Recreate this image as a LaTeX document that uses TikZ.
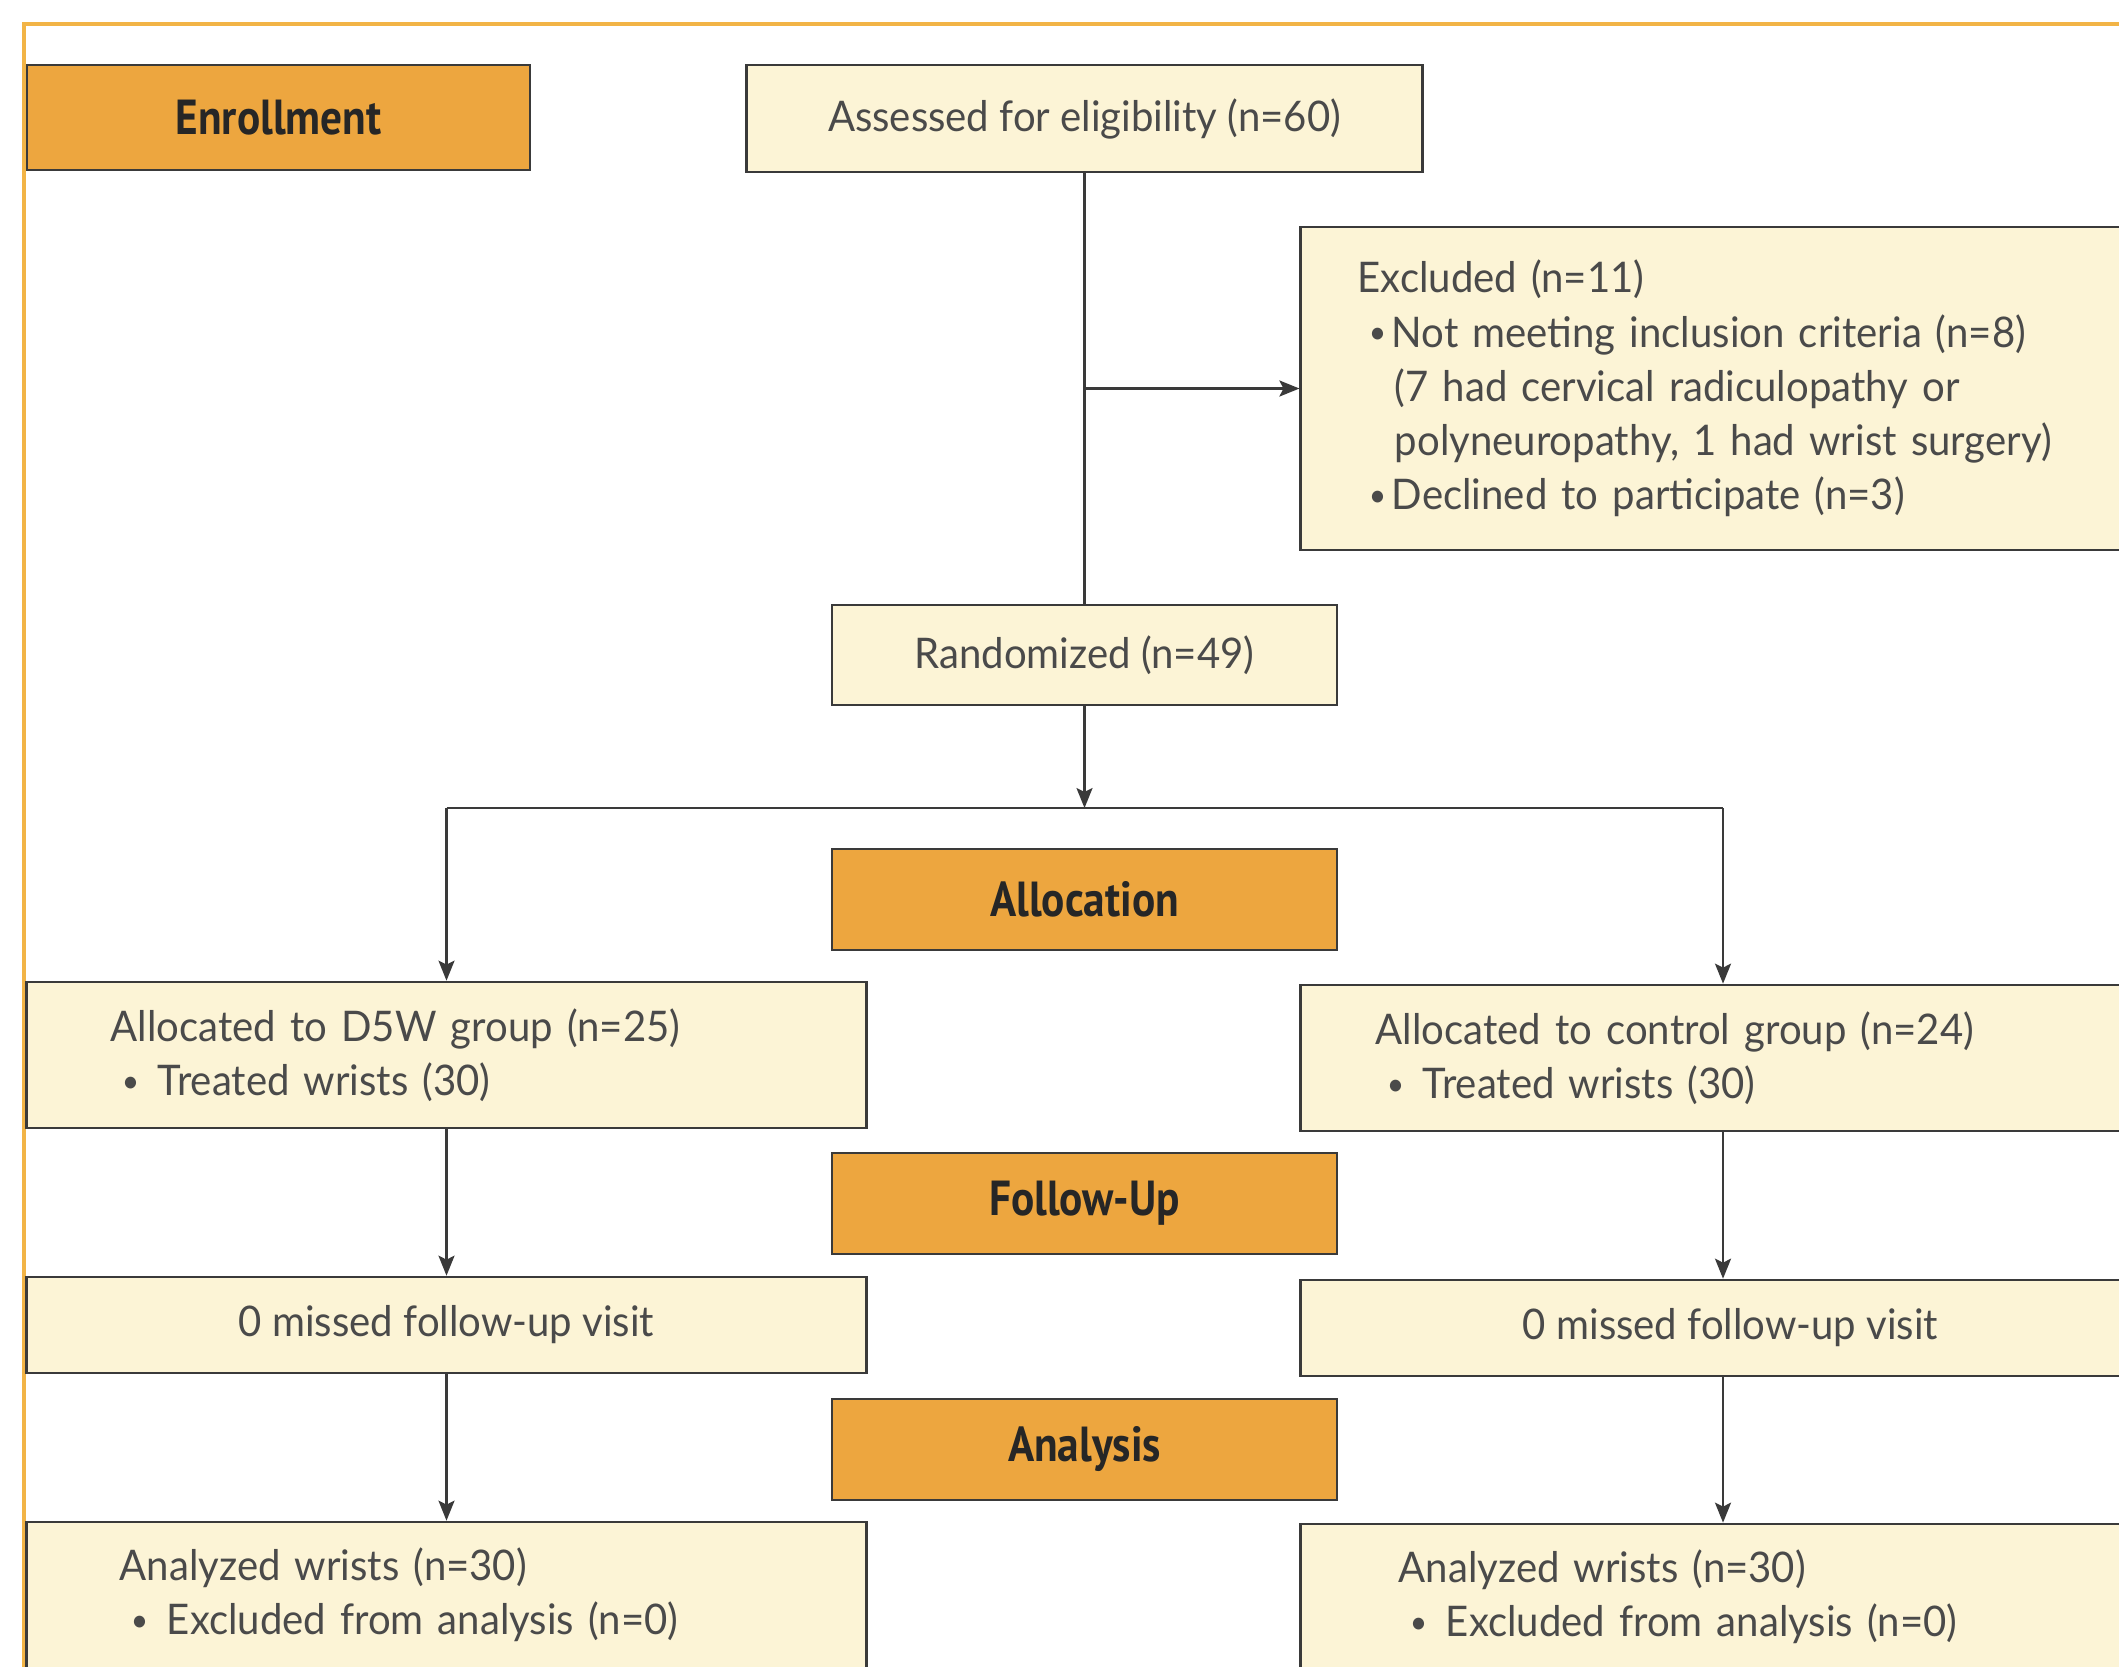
\documentclass[tikz,border=0pt]{standalone}
\usepackage{fontspec}
\setmainfont[FakeStretch=0.95]{Lato}
\newfontfamily\headfont[FakeStretch=0.88]{PT Sans}
\usetikzlibrary{arrows.meta}
\definecolor{framecol}{HTML}{F2B446}
\definecolor{headfill}{HTML}{EDA63F}
\definecolor{boxfill}{HTML}{FCF4D6}
\definecolor{edgecol}{HTML}{3A3A3A}
\definecolor{txtcol}{HTML}{4A4A4A}
\newcommand{\bul}[1]{\hspace*{0.11cm}\makebox[#1][l]{\raisebox{0.15ex}{\scalebox{0.75}{\textbullet}}}}
\begin{document}
\begin{tikzpicture}[x=0.01cm,y=-0.01cm,
  box/.style={draw=edgecol, line width=0.75pt, fill=boxfill, inner ysep=0pt, text=txtcol,
    font=\fontsize{12}{15.4}\selectfont},
  head/.style={draw=edgecol, line width=0.75pt, fill=headfill, inner sep=0pt, text=black!85,
    font=\headfont\bfseries\fontsize{14}{16}\selectfont, minimum width=5.05cm, minimum height=1.01cm},
  conn/.style={draw=edgecol, line width=0.65pt},
  arr/.style={conn, -{Stealth[length=0.2cm,width=0.16cm,inset=0.04cm]}}]
\useasboundingbox (0,0) rectangle (2119,1666);
\clip (0,0) rectangle (2119,1666);
\fill[white] (0,0) rectangle (2119,1666);
\draw[framecol, line width=1.2pt] (24,1700) -- (24,24) -- (2200,24);

% phase headers
\node[head, minimum width=5.03cm, minimum height=1.05cm] (enroll) at (278.5,117.5) {Enrollment};
\node[head] (alloc) at (1084.5,899.5) {Allocation};
\node[head] (fu) at (1084.5,1203.5) {Follow-Up};
\node[head] (anal) at (1084.5,1449.5) {Analysis};

% boxes
\node[box, minimum width=6.75cm, minimum height=1.07cm, inner xsep=0pt] (assess) at (1084.5,118.5) {Assessed for eligibility (n=60)};
\node[box, minimum height=3.23cm, inner xsep=0.57cm, text width=7.45cm, align=left] (excl) at (1730.5,388.5)
  {Excluded (n=11)\\
   \bul{0.23cm}Not meeting inclusion criteria (n=8)\\
   \hspace*{0.37cm}(7 had cervical radiculopathy or\\
   \hspace*{0.37cm}polyneuropathy, 1 had wrist surgery)\\
   \bul{0.23cm}Declined to participate (n=3)};
\node[box, minimum width=5.05cm, minimum height=1.0cm, inner xsep=0pt] (rand) at (1084.5,655) {Randomized (n=49)};

\node[box, minimum height=1.46cm, inner xsep=0.84cm, text width=6.71cm, align=left] (d5w) at (446.5,1055)
  {Allocated to D5W group (n=25)\\ \bul{0.36cm}Treated wrists (30)};
\node[box, minimum height=1.46cm, inner xsep=0.75cm, text width=7.09cm, align=left] (ctrl) at (1730.5,1058)
  {Allocated to control group (n=24)\\ \bul{0.36cm}Treated wrists (30)};

\node[box, minimum width=8.39cm, minimum height=0.96cm, inner xsep=0pt] (miss1) at (446.5,1325) {0 missed follow-up visit};
\node[box, minimum width=8.59cm, minimum height=0.96cm, inner xsep=0pt] (miss2) at (1730.5,1328) {0 missed follow-up visit};

\node[box, minimum height=1.46cm, inner xsep=0.93cm, text width=6.53cm, align=left] (an1) at (446.5,1595)
  {Analyzed wrists (n=30)\\ \bul{0.36cm}Excluded from analysis (n=0)};
\node[box, minimum height=1.46cm, inner xsep=0.98cm, text width=6.63cm, align=left] (an2) at (1730.5,1597)
  {Analyzed wrists (n=30)\\ \bul{0.36cm}Excluded from analysis (n=0)};

% connectors
\coordinate (split) at (1084.5,808);
\coordinate (bl) at (446.5,808);
\coordinate (br) at (1723,808);
\draw[conn] (assess.south) -- (rand.north);
\draw[arr] (assess.south |- excl.west) -- (excl.west);
\draw[arr] (rand.south) -- (split);
\draw[conn] (bl) -- (br);
\draw[arr] (bl) -- (d5w.north);
\draw[arr] (br) -- (br |- ctrl.north);
\draw[arr] (d5w.south) -- (miss1.north);
\draw[arr] (miss1.south) -- (an1.north);
\draw[arr] (br |- ctrl.south) -- (br |- miss2.north);
\draw[arr] (br |- miss2.south) -- (br |- an2.north);
\end{tikzpicture}
\end{document}
